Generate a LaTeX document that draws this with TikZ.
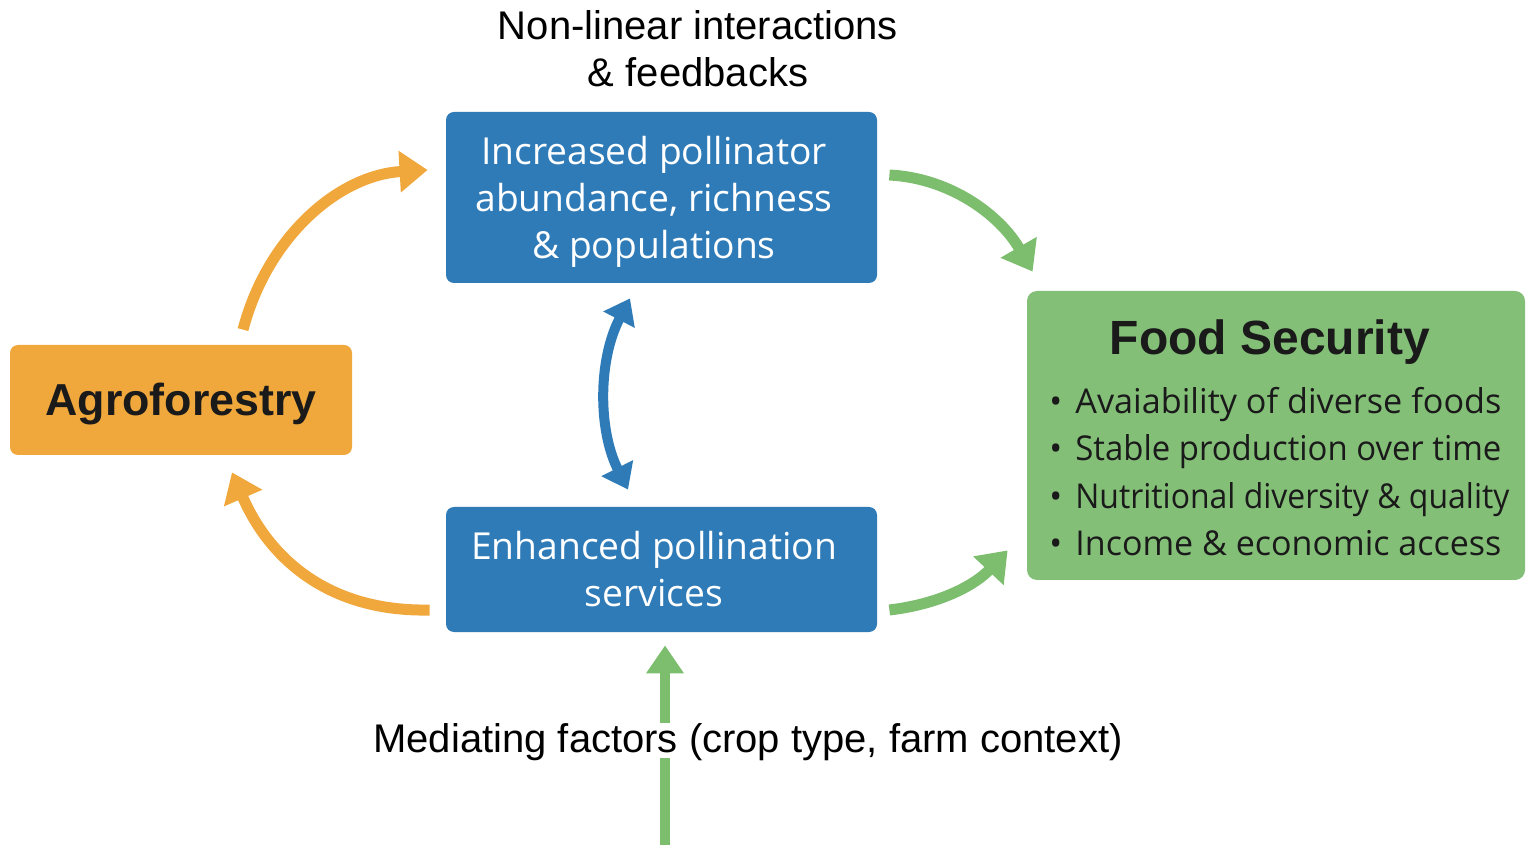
\documentclass[tikz,border=0pt]{standalone}
\usepackage{fontspec}
\setmainfont{Liberation Sans}
\newfontfamily\boxfont{Open Sans}
\usetikzlibrary{arrows.meta}
\definecolor{cblue}{HTML}{2F7BB8}
\definecolor{corange}{HTML}{F0A83C}
\definecolor{cgreenbox}{HTML}{84BF78}
\definecolor{cgreen}{HTML}{7CBE6E}
\definecolor{cdark}{HTML}{1A1A1A}
\newcommand\fitline[2][213pt]{\makebox[13pt][l]{•}\resizebox{#1}{\height}{#2}}
\begin{document}
\begin{tikzpicture}[x=0.5pt,y=-0.5pt,
  bluebox/.style={fill=cblue, rounded corners=4pt, minimum width=215.5pt, inner sep=0pt},
  bluetext/.style={text=white, align=center, inner sep=0pt, xshift=-3.75pt,
    font=\boxfont\fontsize{18.6}{23.5}\selectfont},
  orangearrow/.style={draw=corange, line width=5.5pt, -{Triangle[length=14pt,width=20pt]}},
  greenarrow/.style={draw=cgreen, line width=5.5pt, -{Triangle[length=14pt,width=20pt]}},
  bluearrow/.style={draw=cblue, line width=5pt, {Triangle[length=12pt,width=17pt]}-{Triangle[length=12pt,width=17pt]}},
  bulletline/.style={anchor=base west, text=cdark, inner sep=0pt, font=\boxfont\fontsize{17.1}{21}\selectfont},
  plaintext/.style={text=black, font=\fontsize{20}{23.5}\selectfont, align=center}
]
\useasboundingbox (0,0) rectangle (1535,854);

% boxes
\node[bluebox, minimum height=85.5pt,
  label={[bluetext, yshift=-2pt]center:{Increased pollinator\\abundance, richness\\\& populations}}] (pop) at (661.5,197.5) {};
\node[bluebox, minimum height=62.5pt,
  label={[bluetext]center:{Enhanced pollination\\services}}] (serv) at (661.5,569.5) {};
\node[fill=corange, rounded corners=4pt, minimum width=171pt, minimum height=55pt, inner sep=0pt,
  text=cdark, text height=17pt, text depth=1.4pt,
  font=\bfseries\fontsize{22.4}{26}\selectfont] (agro) at (181,400) {Agroforestry};
\node[fill=cgreenbox, rounded corners=5pt, minimum width=249pt, minimum height=144.5pt, inner sep=0pt] (food) at (1276,435.5) {};

% food security texts
\node[anchor=base, text=cdark, inner sep=0pt, font=\bfseries\fontsize{24}{28}\selectfont] (fstitle) at (1270,355) {Food Security};
\node[bulletline] (b1) at (1049,414) {\fitline{Avaiability of diverse foods}};
\node[bulletline] (b2) at (1049,461) {\fitline{Stable production over time}};
\node[bulletline] (b3) at (1049,509) {\fitline[217pt]{Nutritional diversity \& quality}};
\node[bulletline] (b4) at (1049,556) {\fitline{Income \& economic access}};

% top text
\node[plaintext] (nonlin) at (698,48.5) {Non-linear interactions\\\& feedbacks};

% arrows
\draw[orangearrow] ([xshift=31pt,yshift=7.5pt]agro.north) .. controls (268,235) and (340,175) .. ([xshift=-9pt,yshift=13.75pt]pop.west);
\draw[orangearrow] ([xshift=-8pt,yshift=-20.25pt]serv.west) .. controls (330,612) and (270,560) .. ([xshift=25.5pt,yshift=-8.5pt]agro.south);
\draw[greenarrow] ([xshift=6pt,yshift=11.25pt]pop.east) .. controls (950,178) and (1000,215) .. ([xshift=3pt,yshift=9.5pt]food.north west);
\draw[greenarrow] ([xshift=6pt,yshift=-20.25pt]serv.east) .. controls (940,604) and (975,585) .. ([xshift=-9.5pt,yshift=15pt]food.south west);
\draw[bluearrow] ([xshift=-15.75pt,yshift=-7.5pt]pop.south) .. controls (598,360) and (598,430) .. ([xshift=-16.75pt,yshift=8.5pt]serv.north);
\coordinate (medbase) at (665,845);
\draw[draw=cgreen, line width=5pt, -{Triangle[length=14pt,width=18pt]}] (medbase) -- ([xshift=1.75pt,yshift=-6.5pt]serv.south);

% mediating text
\node[anchor=base, fill=white, inner sep=0pt, text height=14.5pt, text depth=3pt,
  font=\fontsize{20}{23.5}\selectfont] (med) at (748,752) {Mediating factors (crop type, farm context)};
\end{tikzpicture}
\end{document}
